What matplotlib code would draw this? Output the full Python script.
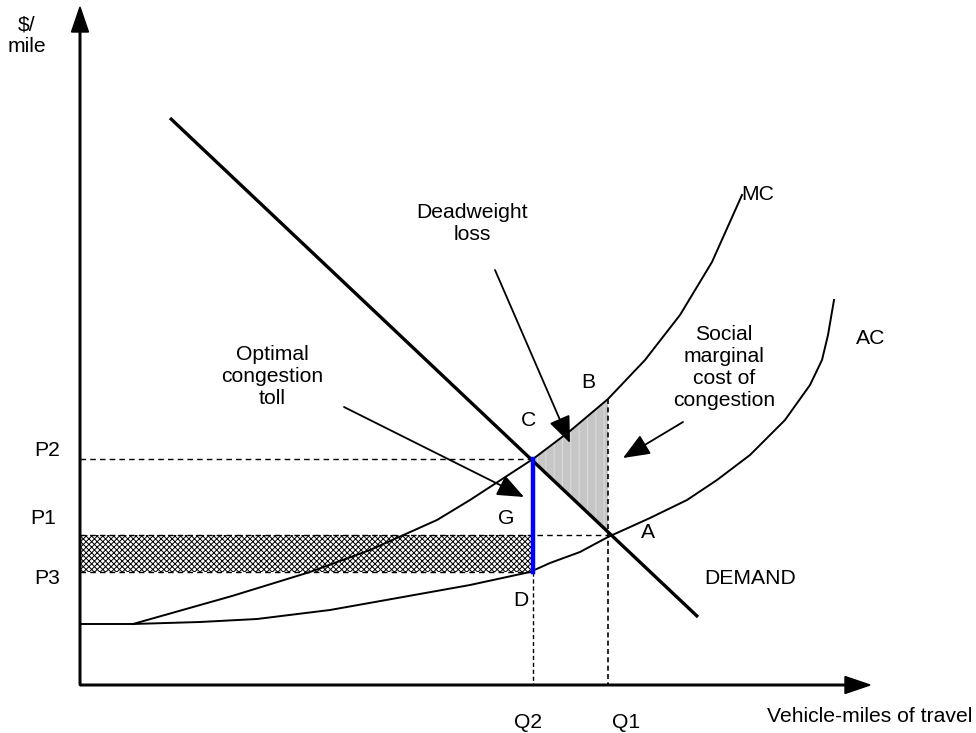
import numpy as np
import matplotlib
matplotlib.use("Agg")
import matplotlib.pyplot as plt
from matplotlib.patches import Polygon, Rectangle

plt.rcParams['font.family'] = ['Liberation Sans', 'DejaVu Sans']
plt.rcParams['hatch.linewidth'] = 0.7

# ---- data (schematic diagram coordinates, y grows downward) ----
origin = (80, 685)
x_end = 870
y_end = 7
Q2, Q1 = 533, 608
P2, P1, P3 = 459, 535, 572

demand_x = [170, 698]
demand_y = [118, 617]

mc_x = [133, 232, 310, 370, 437, 470, 533, 570, 608, 645, 680, 712, 742]
mc_y = [624, 596, 572, 550, 520, 500, 459, 431, 399, 360, 315, 262, 195]

ac_x = [80, 133, 200, 257, 330, 403, 470, 530, 550, 580, 608, 650, 687, 717, 750, 785, 810, 822, 828, 834]
ac_y = [624, 624, 622, 619, 610, 597, 585, 572, 563, 552, 537, 518, 500, 480, 455, 420, 385, 360, 335, 300]

fs = 15.2

fig = plt.figure(figsize=(9.76, 7.33), dpi=100)
ax = fig.add_axes([0, 0, 1, 1])
ax.set_xlim(0, 976)
ax.set_ylim(733, 0)
ax.axis('off')

# hatched rectangle (toll revenue)
ax.add_patch(Rectangle((origin[0], P1), Q2 - origin[0], P3 - P1, facecolor='white',
                       edgecolor='black', hatch='xxxxxx', lw=0, zorder=1))
# dashed boundaries
ax.plot([origin[0], Q2], [P2, P2], ls=(0, (4, 3)), color='k', lw=1, zorder=2)
ax.plot([origin[0], Q1], [P1, P1], ls=(0, (4, 3)), color='k', lw=1, zorder=2)
ax.plot([origin[0], Q2], [P3, P3], ls=(0, (4, 3)), color='k', lw=1, zorder=2)
ax.plot([Q2, Q2], [P3, origin[1]], ls=(0, (3, 2)), color='k', lw=1, zorder=2)

# deadweight loss triangle
mcx = np.array(mc_x); mcy = np.array(mc_y)
sel = (mcx >= Q2) & (mcx <= Q1)
dA = np.interp(Q1, demand_x, demand_y)
tri = list(zip(mcx[sel], mcy[sel])) + [(Q1, dA)]
ax.add_patch(Polygon(tri, closed=True, facecolor='#c6c6c6', edgecolor='#dcdcdc',
                     hatch='||', lw=0, zorder=2))
ax.plot([Q1, Q1], [mcy[sel][-1], origin[1]], ls=(0, (3, 2)), color='k', lw=1.2, zorder=3)

# curves
ax.plot(mc_x, mc_y, color='k', lw=1.4, zorder=4)
ax.plot(ac_x, ac_y, color='k', lw=1.4, zorder=4)
ax.plot(demand_x, demand_y, color='k', lw=2.4, zorder=4, solid_capstyle='butt')

# blue toll line
ax.plot([Q2, Q2], [P2, P3], color='#0000ff', lw=3.2, zorder=5)

# axes with arrows
ax.arrow(origin[0], origin[1], x_end - origin[0], 0, width=1.6, head_width=17,
         head_length=25, length_includes_head=True, fc='k', ec='k', zorder=6)
ax.arrow(origin[0], origin[1], 0, y_end - origin[1], width=1.6, head_width=17,
         head_length=25, length_includes_head=True, fc='k', ec='k', zorder=6)

# annotation arrows
def pointer(x0, y0, x1, y1):
    ax.annotate('', xy=(x1, y1), xytext=(x0, y0),
                arrowprops=dict(arrowstyle='-|>,head_length=1.1,head_width=0.45',
                                mutation_scale=15, lw=1.3, color='k',
                                shrinkA=0, shrinkB=0), zorder=7)

pointer(495, 270, 570, 443)
pointer(344, 407, 524, 497)
pointer(683, 422, 623, 458)

# labels
def lab(x, y, s, **kw):
    ax.text(x, y, s, fontsize=fs, ha='center', va='center', linespacing=1.2, **kw)

lab(27, 36, "$/\nmile")
lab(47, 451, "P2")
lab(43, 519, "P1")
lab(47, 579, "P3")
lab(528, 723, "Q2")
lab(626, 723, "Q1")
lab(870, 717, "Vehicle-miles of travel")
lab(758, 195, "MC")
lab(871, 338, "AC")
lab(750, 579, "DEMAND")
lab(648, 533, "A")
lab(588, 383, "B")
lab(529, 421, "C")
lab(506, 518, "G")
lab(521, 600, "D")
lab(472, 224, "Deadweight\nloss")
lab(272, 376, "Optimal\ncongestion\ntoll")
lab(724, 368, "Social\nmarginal\ncost of\ncongestion")

fig.savefig("out.png", dpi=100)
